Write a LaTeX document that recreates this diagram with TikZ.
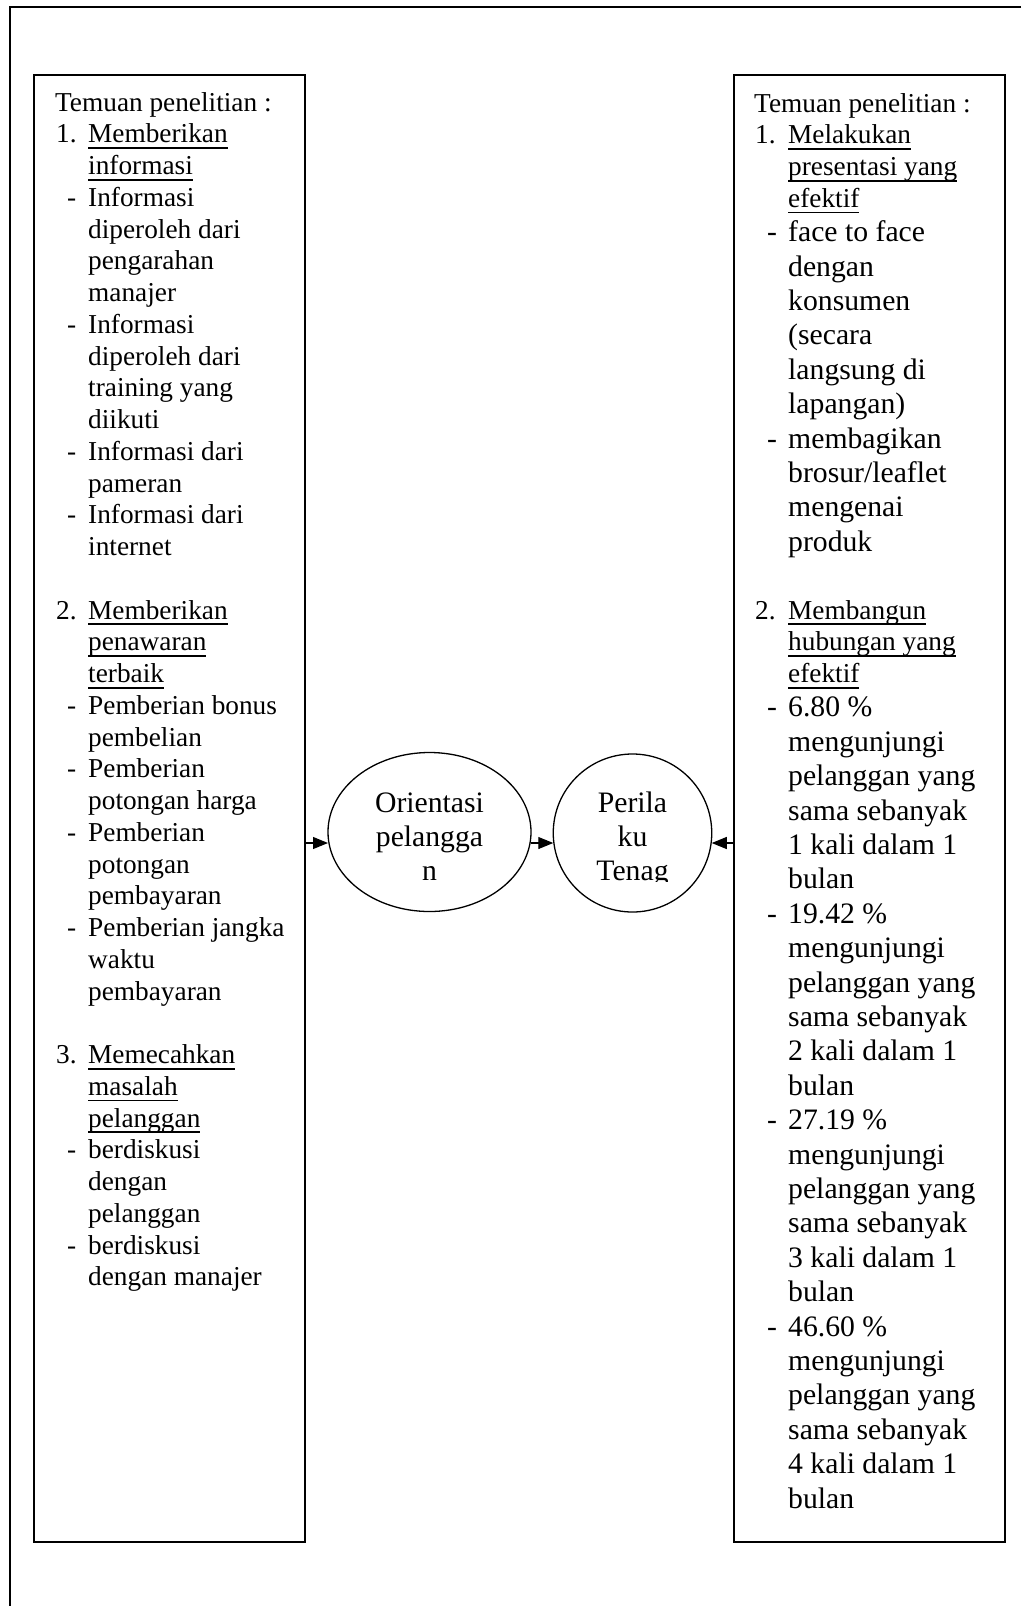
\documentclass[tikz,border=0pt]{standalone}
\usepackage{fontspec}
\setmainfont{Liberation Serif}
\usetikzlibrary{shapes.geometric,arrows.meta}
\newcommand{\fsmall}{\fontsize{27.3pt}{31.75pt}\selectfont}
\newcommand{\fbig}{\fontsize{29.7pt}{34.4pt}\selectfont}
% underlined heading text: rule from 4.4pt to 6pt below the baseline
\newsavebox{\ulbox}
\newcommand{\ulx}[1]{\sbox{\ulbox}{#1}\usebox{\ulbox}\llap{\rule[-6pt]{\wd\ulbox}{1.6pt}}}
\begin{document}
\begin{tikzpicture}[x=1pt,y=-1pt,
  box/.style={draw, rectangle, inner sep=0pt, outer sep=0pt, anchor=north west},
  oval/.style={draw, ellipse, inner sep=0pt, outer sep=0pt, line width=1.3pt},
  ts/.style={anchor=base west, inner sep=0pt, font=\fsmall},
  tb/.style={anchor=base west, inner sep=0pt, font=\fbig},
  tc/.style={anchor=base, inner sep=0pt, font=\fbig},
  arr/.style={line width=1.1pt, -{Triangle[length=15pt,width=12pt]}},
]
\useasboundingbox (0,0) rectangle (1021,1606);
\fill[white] (0,0) rectangle (1021,1606);
% outer frame: only its top and left sides lie on the page
\draw[line width=1.5pt] (1021,7) -- (10,7) -- (10,1606);

% the two findings boxes
\node[box, line width=1.2pt, minimum width=271pt, minimum height=1467pt] (lbox) at (34,75) {};
\node[box, line width=2.3pt, minimum width=271pt, minimum height=1467pt] (rbox) at (734,75) {};

% the two central ovals
\node[oval, minimum width=203pt, minimum height=159pt] (e1) at (429.5,832) {};
\node[oval, minimum width=158.5pt, minimum height=158pt] (e2) at (632.5,833) {};

\node[tc] (e1a) at (429.5,812) {Orientasi};
\node[tc] (e1b) at (429.5,846) {pelangga};
\node[tc] (e1c) at (429.5,880) {n};
\begin{scope}
  \clip (560,770) rectangle (705,881);
  \node[tc] (e2a) at (632.5,812) {Perila};
  \node[tc] (e2b) at (632.5,846) {ku};
  \node[tc] (e2c) at (632.5,880) {Tenag};
\end{scope}

% connectors
\coordinate (ay) at (0,843);
\draw[arr] (lbox.east |- ay) -- (e1.west |- ay);
\draw[arr] (e1.east |- ay) -- (e2.west |- ay);
\draw[arr] (rbox.west |- ay) -- (e2.east |- ay);

% left box text
\node[ts] (L0) at (55,111) {Temuan penelitian :};
\node[ts] (L1n) at (56,142.75) {1.};
\node[ts] (L1) at (88,142.75) {\ulx{Memberikan}};
\node[ts] (L2) at (88,174.5) {\ulx{informasi}};
\node[ts] (L3d) at (67,206.25) {-};
\node[ts] (L3) at (88,206.25) {Informasi};
\node[ts] (L4) at (88,238) {diperoleh dari};
\node[ts] (L5) at (88,269.75) {pengarahan};
\node[ts] (L6) at (88,301.5) {manajer};
\node[ts] (L7d) at (67,333.25) {-};
\node[ts] (L7) at (88,333.25) {Informasi};
\node[ts] (L8) at (88,365) {diperoleh dari};
\node[ts] (L9) at (88,396.75) {training yang};
\node[ts] (L10) at (88,428.5) {diikuti};
\node[ts] (L11d) at (67,460.25) {-};
\node[ts] (L11) at (88,460.25) {Informasi dari};
\node[ts] (L12) at (88,492) {pameran};
\node[ts] (L13d) at (67,523.75) {-};
\node[ts] (L13) at (88,523.75) {Informasi dari};
\node[ts] (L14) at (88,555.5) {internet};
\node[ts] (L16n) at (56,619) {2.};
\node[ts] (L16) at (88,619) {\ulx{Memberikan}};
\node[ts] (L17) at (88,650.75) {\ulx{penawaran}};
\node[ts] (L18) at (88,682.5) {\ulx{terbaik}};
\node[ts] (L19d) at (67,714.25) {-};
\node[ts] (L19) at (88,714.25) {Pemberian bonus};
\node[ts] (L20) at (88,746) {pembelian};
\node[ts] (L21d) at (67,777.75) {-};
\node[ts] (L21) at (88,777.75) {Pemberian};
\node[ts] (L22) at (88,809.5) {potongan harga};
\node[ts] (L23d) at (67,841.25) {-};
\node[ts] (L23) at (88,841.25) {Pemberian};
\node[ts] (L24) at (88,873) {potongan};
\node[ts] (L25) at (88,904.75) {pembayaran};
\node[ts] (L26d) at (67,936.5) {-};
\node[ts] (L26) at (88,936.5) {Pemberian jangka};
\node[ts] (L27) at (88,968.25) {waktu};
\node[ts] (L28) at (88,1000) {pembayaran};
\node[ts] (L30n) at (56,1063.5) {3.};
\node[ts] (L30) at (88,1063.5) {\ulx{Memecahkan}};
\node[ts] (L31) at (88,1095.25) {\ulx{masalah}};
\node[ts] (L32) at (88,1127) {\ulx{pelanggan}};
\node[ts] (L33d) at (67,1158.75) {-};
\node[ts] (L33) at (88,1158.75) {berdiskusi};
\node[ts] (L34) at (88,1190.5) {dengan};
\node[ts] (L35) at (88,1222.25) {pelanggan};
\node[ts] (L36d) at (67,1254) {-};
\node[ts] (L36) at (88,1254) {berdiskusi};
\node[ts] (L37) at (88,1285.75) {dengan manajer};

% right box text
\node[ts] (R0) at (754,112) {Temuan penelitian :};
\node[ts] (R1n) at (755,143.75) {1.};
\node[ts] (R1) at (788,143.75) {\ulx{Melakukan}};
\node[ts] (R2) at (788,175.5) {\ulx{presentasi yang}};
\node[ts] (R3) at (788,207.25) {\ulx{efektif}};
\node[tb] (R4d) at (767,241.65) {-};
\node[tb] (R4) at (788,241.65) {face to face};
\node[tb] (R5) at (788,276.05) {dengan};
\node[tb] (R6) at (788,310.45) {konsumen};
\node[tb] (R7) at (788,344.85) {(secara};
\node[tb] (R8) at (788,379.25) {langsung di};
\node[tb] (R9) at (788,413.65) {lapangan)};
\node[tb] (R10d) at (767,448.05) {-};
\node[tb] (R10) at (788,448.05) {membagikan};
\node[tb] (R11) at (788,482.45) {brosur/leaflet};
\node[tb] (R12) at (788,516.85) {mengenai};
\node[tb] (R13) at (788,551.25) {produk};
\node[ts] (R15n) at (755,619) {2.};
\node[ts] (R15) at (788,619) {\ulx{Membangun}};
\node[ts] (R16) at (788,650.75) {\ulx{hubungan yang}};
\node[ts] (R17) at (788,682.5) {\ulx{efektif}};
\node[tb] (R18d) at (767,716.9) {-};
\node[tb] (R18) at (788,716.9) {6.80 \%};
\node[tb] (R19) at (788,751.3) {mengunjungi};
\node[tb] (R20) at (788,785.7) {pelanggan yang};
\node[tb] (R21) at (788,820.1) {sama sebanyak};
\node[tb] (R22) at (788,854.5) {1 kali dalam 1};
\node[tb] (R23) at (788,888.9) {bulan};
\node[tb] (R24d) at (767,923.3) {-};
\node[tb] (R24) at (788,923.3) {19.42 \%};
\node[tb] (R25) at (788,957.7) {mengunjungi};
\node[tb] (R26) at (788,992.1) {pelanggan yang};
\node[tb] (R27) at (788,1026.5) {sama sebanyak};
\node[tb] (R28) at (788,1060.9) {2 kali dalam 1};
\node[tb] (R29) at (788,1095.3) {bulan};
\node[tb] (R30d) at (767,1129.7) {-};
\node[tb] (R30) at (788,1129.7) {27.19 \%};
\node[tb] (R31) at (788,1164.1) {mengunjungi};
\node[tb] (R32) at (788,1198.5) {pelanggan yang};
\node[tb] (R33) at (788,1232.9) {sama sebanyak};
\node[tb] (R34) at (788,1267.3) {3 kali dalam 1};
\node[tb] (R35) at (788,1301.7) {bulan};
\node[tb] (R36d) at (767,1336.1) {-};
\node[tb] (R36) at (788,1336.1) {46.60 \%};
\node[tb] (R37) at (788,1370.5) {mengunjungi};
\node[tb] (R38) at (788,1404.9) {pelanggan yang};
\node[tb] (R39) at (788,1439.3) {sama sebanyak};
\node[tb] (R40) at (788,1473.7) {4 kali dalam 1};
\node[tb] (R41) at (788,1508.1) {bulan};
\end{tikzpicture}
\end{document}
